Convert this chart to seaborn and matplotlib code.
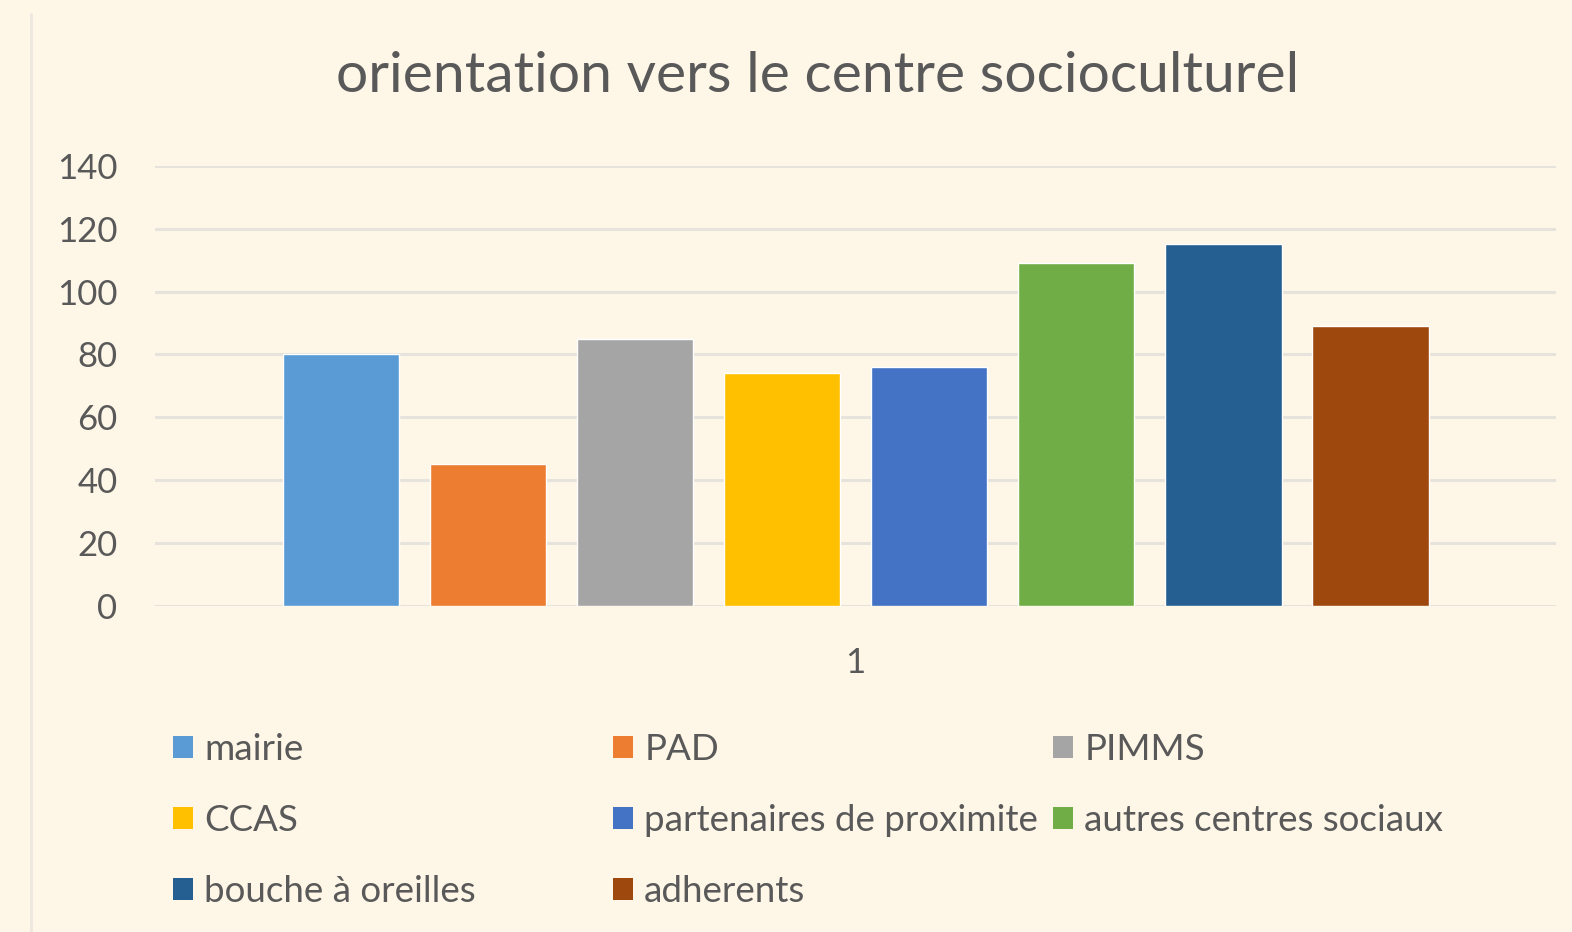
import seaborn as sns
import matplotlib.pyplot as plt
import matplotlib.patches as mpatches
from matplotlib.lines import Line2D
import pandas as pd

# Data
categories = ['mairie', 'PAD', 'PIMMS', 'CCAS', 'partenaires de proximite',
              'autres centres sociaux', 'bouche à oreilles', 'adherents']
values = [80, 45, 85, 74, 76, 109, 115, 89]
colors = ['#5B9BD5', '#ED7D31', '#A5A5A5', '#FFC000', '#4472C4',
          '#70AD47', '#255E91', '#9E480E']
group = ['1'] * len(categories)

df = pd.DataFrame({'groupe': group, 'source': categories, 'valeur': values})

bg = '#FEF6E7'
txt = '#595959'
sns.set_theme(style='white')
plt.rcParams['font.family'] = ['Lato', 'DejaVu Sans']

fig = plt.figure(figsize=(15.72, 9.32), dpi=100, facecolor=bg)
ax = fig.add_axes([0.0986, 0.350, 0.8914, 0.472])
ax.set_facecolor(bg)

sns.barplot(data=df, x='groupe', y='valeur', hue='source', hue_order=categories,
            palette=colors, width=0.84, gap=0.21, saturation=1, legend=False, ax=ax)

ax.set_xlim(-0.5, 0.5)
ax.set_ylim(0, 140)
ax.set_yticks(range(0, 141, 20))
ax.yaxis.grid(True, color='#E6E3DC', linewidth=2.2)
ax.set_axisbelow(True)
for s in ax.spines.values():
    s.set_visible(False)
ax.tick_params(axis='both', length=0, labelsize=25, colors=txt)
ax.tick_params(axis='y', pad=27)
ax.tick_params(axis='x', pad=30)
ax.set_xlabel('')
ax.set_ylabel('')

fig.text(0.52, 0.918, 'orientation vers le centre socioculturel', ha='center',
         va='center', fontsize=41, color=txt)

# Legend laid out in three equal columns, filled row by row
handles = [mpatches.Patch(facecolor=c, edgecolor='none') for c in colors]
col_x = [0.1005, 0.3805, 0.6605]
for j in range(3):
    idx = list(range(j, len(categories), 3))
    fig.legend([handles[i] for i in idx], [categories[i] for i in idx],
               loc='upper left', bbox_to_anchor=(col_x[j], 0.229),
               frameon=False, fontsize=26.5, labelcolor=txt, handlelength=0.55,
               handleheight=0.55, handletextpad=0.3, labelspacing=1.03,
               borderaxespad=0)

# faint chart border on the left
fig.add_artist(Line2D([0.0195, 0.0195], [0.0, 0.985], color='#ECE8E0', linewidth=2))

fig.savefig('out.png', dpi=100, facecolor=bg)
